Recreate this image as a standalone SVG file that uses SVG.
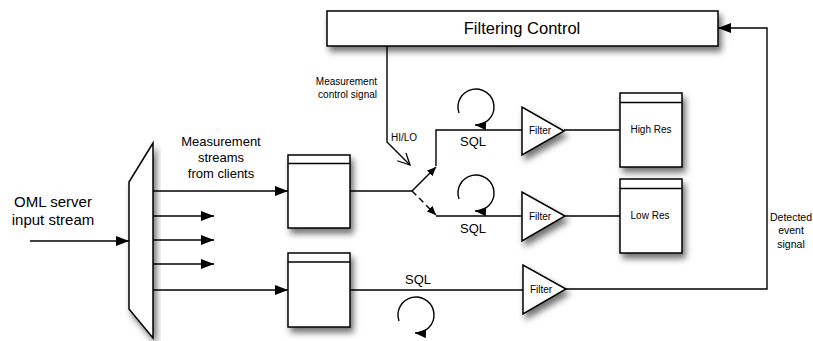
<svg xmlns="http://www.w3.org/2000/svg" width="813" height="341" viewBox="0 0 813 341">
<defs>
<filter id="sh" x="-20%" y="-20%" width="150%" height="160%">
<feDropShadow dx="3" dy="5" stdDeviation="3" flood-color="#000" flood-opacity="0.55"/>
</filter>
<marker id="ah" markerUnits="userSpaceOnUse" markerWidth="14" markerHeight="12" refX="13" refY="5" orient="auto">
<path d="M0,0 L13,5 L0,10 Z" fill="#000"/>
</marker>
<marker id="al" markerUnits="userSpaceOnUse" markerWidth="12" markerHeight="10" refX="11" refY="4.5" orient="auto">
<path d="M0,0 L11,4.5 L0,9 Z" fill="#000"/>
</marker>
<marker id="as" markerUnits="userSpaceOnUse" markerWidth="10" markerHeight="10" refX="9" refY="4" orient="auto">
<path d="M0,0 L9,4 L0,8 Z" fill="#000"/>
</marker>
<marker id="ao" markerUnits="userSpaceOnUse" markerWidth="14" markerHeight="14" refX="12" refY="6" orient="auto">
<path d="M0,0 L12,6 L0,12" fill="none" stroke="#000" stroke-width="1.3"/>
</marker>
</defs>
<style>
.box{fill:#fff;stroke:#000;stroke-width:1.5}
.ln{fill:none;stroke:#000;stroke-width:1.4}
.t{font-family:"Liberation Sans",Arial,sans-serif;fill:#000}
</style>
<rect width="813" height="341" fill="#fff"/>

<g id="connectors">
<line class="ln" x1="30" y1="241" x2="129" y2="241" marker-end="url(#ah)"/>
<line class="ln" x1="153" y1="191" x2="288" y2="191" marker-end="url(#ah)"/>
<line class="ln" x1="153" y1="216" x2="214" y2="216" marker-end="url(#ah)"/>
<line class="ln" x1="153" y1="240" x2="214" y2="240" marker-end="url(#ah)"/>
<line class="ln" x1="153" y1="264" x2="214" y2="264" marker-end="url(#ah)"/>
<line class="ln" x1="153" y1="290" x2="288" y2="290" marker-end="url(#ah)"/>
<polyline class="ln" points="387,46 387,142 410,165" marker-end="url(#ao)"/>
<line class="ln" x1="350" y1="191" x2="412" y2="191"/>
<line class="ln" x1="412" y1="191" x2="436" y2="167" marker-end="url(#as)"/>
<line class="ln" x1="412" y1="191" x2="436" y2="215" stroke-dasharray="6,4" marker-end="url(#as)"/>
<polyline class="ln" points="436,166 436,130 522,130"/>
<line class="ln" x1="436" y1="216" x2="522" y2="216"/>
<line class="ln" x1="350" y1="290" x2="523" y2="290"/>
<line class="ln" x1="564" y1="130" x2="620" y2="130"/>
<line class="ln" x1="565" y1="216" x2="620" y2="216"/>
<polyline class="ln" points="566,289 767,289 767,28 718,28" marker-end="url(#ah)"/>
<path class="ln" d="M459,113 A18,18 0 1 1 475,125" marker-end="url(#al)"/>
<path class="ln" d="M459,199 A18,18 0 1 1 475,211" marker-end="url(#al)"/>
<path class="ln" d="M399,321 A18,18 0 1 1 415,333" marker-end="url(#al)"/>
</g>

<g id="filtering-control">
<rect class="box" x="327" y="11" width="391" height="35" filter="url(#sh)"/>
<text class="t" x="522" y="34" font-size="16.5" text-anchor="middle">Filtering Control</text>
</g>

<g id="demux">
<polygon class="box" points="153,143 153,338 129,309 129,182" filter="url(#sh)"/>
</g>

<g id="buffer1">
<rect class="box" x="288" y="155" width="62" height="73" filter="url(#sh)"/>
<line class="ln" x1="288" y1="163.5" x2="350" y2="163.5"/>
</g>
<g id="buffer2">
<rect class="box" x="288" y="253" width="62" height="74" filter="url(#sh)"/>
<line class="ln" x1="288" y1="262" x2="350" y2="262"/>
</g>

<g id="filter1">
<polygon class="box" points="522,107 522,155 564,131" filter="url(#sh)"/>
<text class="t" x="540" y="134" font-size="10" text-anchor="middle">Filter</text>
</g>
<g id="filter2">
<polygon class="box" points="522,192 522,241 565,216" filter="url(#sh)"/>
<text class="t" x="540" y="219.5" font-size="10" text-anchor="middle">Filter</text>
</g>
<g id="filter3">
<polygon class="box" points="523,265 523,314 566,289" filter="url(#sh)"/>
<text class="t" x="541" y="292.5" font-size="10" text-anchor="middle">Filter</text>
</g>

<g id="high-res">
<rect class="box" x="620" y="93" width="62" height="74" filter="url(#sh)"/>
<line class="ln" x1="620" y1="102.5" x2="682" y2="102.5"/>
<text class="t" x="651" y="133" font-size="10" text-anchor="middle">High Res</text>
</g>
<g id="low-res">
<rect class="box" x="620" y="179" width="62" height="74" filter="url(#sh)"/>
<line class="ln" x1="620" y1="188.5" x2="682" y2="188.5"/>
<text class="t" x="650" y="219" font-size="10" text-anchor="middle">Low Res</text>
</g>

<g id="labels">
<text class="t" x="53" y="207" font-size="15" text-anchor="middle">OML server</text>
<text class="t" x="53" y="225" font-size="15" text-anchor="middle">input stream</text>
<text class="t" x="221" y="145.5" font-size="13" text-anchor="middle">Measurement</text>
<text class="t" x="221" y="162" font-size="13" text-anchor="middle">streams</text>
<text class="t" x="221" y="178" font-size="13" text-anchor="middle">from clients</text>
<text class="t" x="377" y="85" font-size="10" text-anchor="end">Measurement</text>
<text class="t" x="377" y="98" font-size="10" text-anchor="end">control signal</text>
<text class="t" x="391" y="141" font-size="10">HI/LO</text>
<text class="t" x="473" y="146" font-size="13" text-anchor="middle">SQL</text>
<text class="t" x="473" y="233" font-size="13" text-anchor="middle">SQL</text>
<text class="t" x="418" y="284" font-size="13" text-anchor="middle">SQL</text>
<text class="t" x="791" y="220.5" font-size="10.5" text-anchor="middle">Detected</text>
<text class="t" x="791" y="234" font-size="10.5" text-anchor="middle">event</text>
<text class="t" x="791" y="248" font-size="10.5" text-anchor="middle">signal</text>
</g>
</svg>
